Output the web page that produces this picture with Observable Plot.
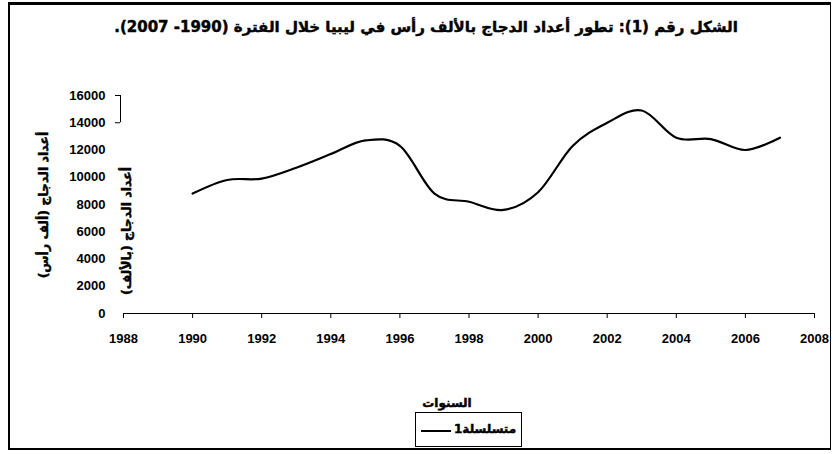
<!DOCTYPE html>
<html>
<head>
<meta charset="utf-8">
<script src="https://cdn.jsdelivr.net/npm/d3@7"></script>
<script src="https://cdn.jsdelivr.net/npm/@observablehq/plot@0.6"></script>
<style>
  html, body { margin: 0; padding: 0; background: #fff; }
  #wrap { position: relative; width: 834px; height: 454px; overflow: hidden; background: #fff;
          font-family: "Liberation Sans", "DejaVu Sans", sans-serif; }
  #frame { position: absolute; left: 8px; top: 2px; width: 823px; height: 448px;
           border-top: 3px solid #000; border-left: 2px solid #000; border-bottom: 2px solid #000; border-right: 1px solid #000; box-sizing: border-box; }
  .t { position: absolute; font-weight: bold; color: #000; white-space: nowrap; font-family: "Liberation Sans", "DejaVu Sans", sans-serif; }
  .ar { font-family: "DejaVu Sans", sans-serif; font-weight: bold; -webkit-text-stroke: 0.45px #000; }
  #title { left: 0; width: 852px; top: 18px; text-align: center; font-size: 15px; direction: rtl; }
  #xtitle { left: 0; width: 894px; top: 396px; text-align: center; font-size: 12px; direction: rtl; }
  .yt { transform-origin: center center; transform: translate(-50%, -50%) rotate(-90deg); font-size: 12.5px; direction: rtl; }
  #legend { position: absolute; left: 415px; top: 412px; width: 107px; height: 35px; border: 1px solid #000; box-sizing: border-box; }
  #legline { position: absolute; left: 5px; top: 17px; width: 30px; height: 0; border-top: 2px solid #000; }
  #legtext { position: absolute; left: 38px; top: 9px; font-size: 12px; direction: rtl; }
  svg { position: absolute; left: 0; top: 0; }
</style>
</head>
<body>
<div id="wrap">
  <div id="frame"></div>
  <div id="plot"></div>
  <div class="t ar" id="title">الشكل رقم (1): تطور أعداد الدجاج بالألف رأس في ليبيا خلال الفترة (1990- 2007).</div>
  <div class="t ar yt" id="yt1" style="left:43px; top:205px;">أعداد الدجاج (ألف رأس)</div>
  <div class="t ar yt" id="yt2" style="left:126px; top:231px;">أعداد الدجاج (بالألف)</div>
  <div class="t ar" id="xtitle">السنوات</div>
  <div id="legend"><div id="legline"></div><div class="t ar" id="legtext">متسلسلة1</div></div>
</div>
<script>
const years = [1990,1991,1992,1993,1994,1995,1996,1997,1998,1999,2000,2001,2002,2003,2004,2005,2006,2007];
const chickens = [8800,9800,9900,10700,11700,12700,12300,8800,8200,7600,8900,12300,14000,14900,12900,12800,12000,12900];
const xTicks = [1988,1990,1992,1994,1996,1998,2000,2002,2004,2006,2008];
const yTicks = [0,2000,4000,6000,8000,10000,12000,14000,16000];
const seriesName = "متسلسلة1";

const data = years.map((y, i) => ({year: y, value: chickens[i], series: seriesName}));

const chart = Plot.plot({
  width: 834,
  height: 454,
  marginLeft: 123,
  marginRight: 20,
  marginTop: 95,
  marginBottom: 141,
  style: {fontFamily: "'Liberation Sans', Arial, sans-serif", fontWeight: "bold", fontSize: "13px", background: "transparent", overflow: "visible"},
  x: {domain: [1988, 2008]},
  y: {domain: [0, 16000]},
  marks: [
    Plot.axisX({ticks: xTicks, tickFormat: d => String(d), tickSize: 5, tickPadding: 15, fontSize: 13, fontWeight: "bold", label: null}),
    Plot.axisY({ticks: yTicks, tickFormat: d => String(d), tickSize: 0, tickPadding: 18, fontSize: 13, fontWeight: "bold", label: null}),
    Plot.axisY({ticks: [14000, 16000], tickFormat: () => "", tickSize: 5, dx: -3, label: null}),
    Plot.ruleX([1988], {y1: 14000, y2: 16000, dx: -3, stroke: "#000"}),
    Plot.ruleY([0], {stroke: "#000", strokeWidth: 1.2}),
    Plot.line(data, {x: "year", y: "value", curve: "cardinal", stroke: "#000", strokeWidth: 2.2})
  ]
});
document.getElementById("plot").appendChild(chart);
</script>
</body>
</html>
